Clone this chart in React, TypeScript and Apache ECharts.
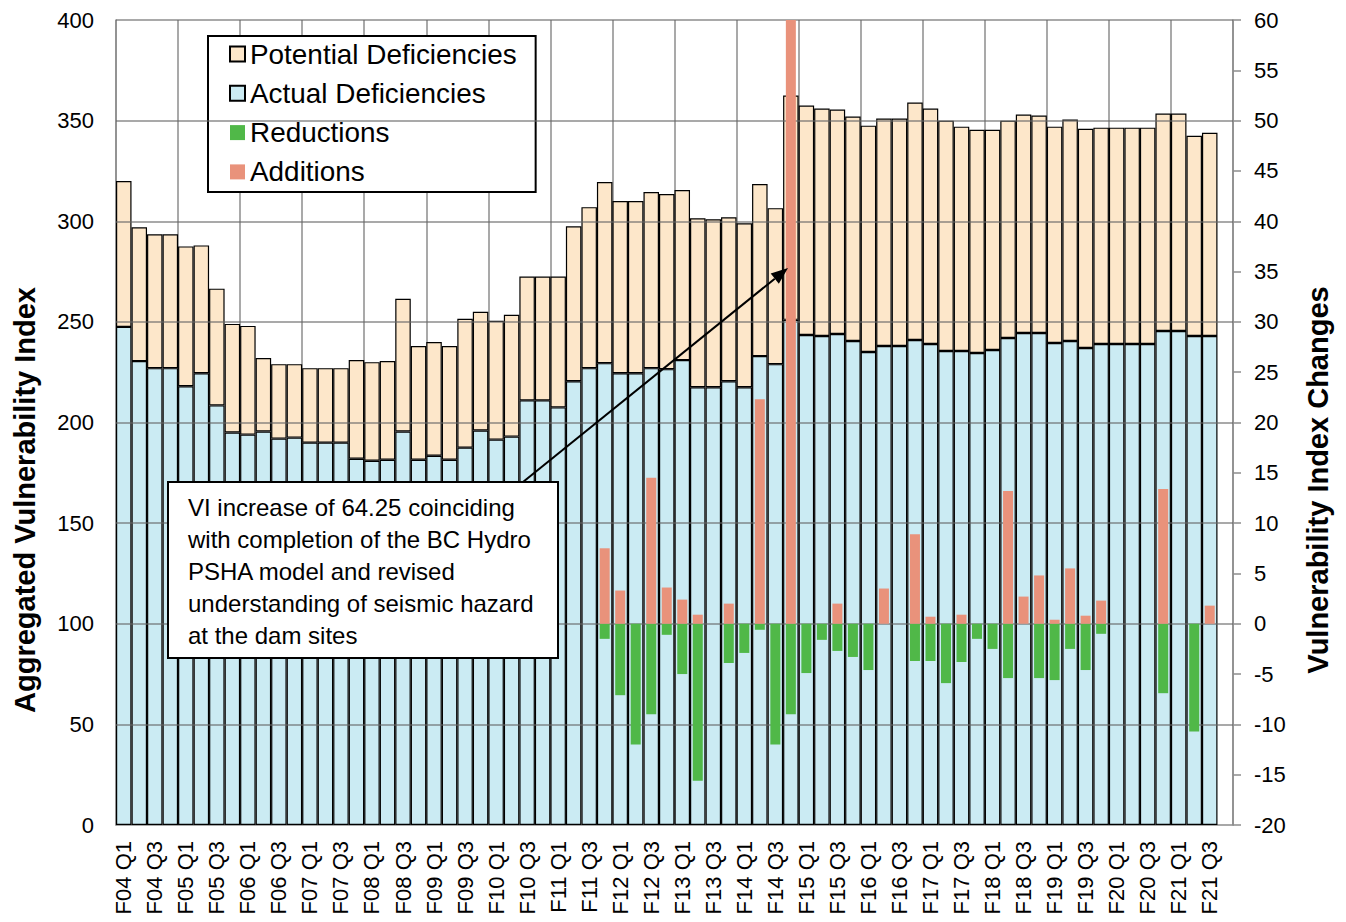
import React, { useEffect, useRef } from "react";
import * as echarts from "echarts";

const N = null;
const fiscalYears = ["F04","F05","F06","F07","F08","F09","F10","F11","F12","F13","F14","F15","F16","F17","F18","F19","F20","F21"];
const quarters = ["Q1", "Q2", "Q3", "Q4"];
const categories: string[] = [];
fiscalYears.forEach((y) => quarters.forEach((q) => categories.push(y + " " + q)));

const actualDeficiencies = [
  247.5,230.5,227,227,218,224.5,208.5,195,194,195.5,
  192,192.5,190,190,190,182,181,181.5,195.5,181.5,
  183.5,181.5,187.5,196,191.5,193,211,211,207.5,220.5,
  227,229.5,224.5,224.5,227,226.5,231,217.5,217.5,220.5,
  217.5,233,229,251,243.5,243,244,240.5,235,238,
  238,241,239,235.5,235.5,234.5,236,242,244.5,244.5,
  239.5,240.5,237,239,239,239,239,245.5,245.5,243,
  243,N,
];
const potentialDeficiencies = [
  72.5,66.5,66.5,66.5,69.5,63.5,58,54,54,36.5,
  37,36.5,37,37,37,49,49,49,66,56.5,
  56.5,56.5,64,59,59,60.5,61.5,61.5,65,77,
  80,90,85.5,85.5,87.5,87,84.5,84,83.5,81.5,
  81.5,85.5,77.5,111.5,114,113,111.5,111.5,112.5,113,
  113,118,117,114.5,111.5,111,109.5,108,108.5,108,
  107.5,110,109,107.5,107.5,107.5,107.5,108,108,99.5,
  101,N,
];
const additions = [
  N,N,N,N,N,N,N,N,N,N,
  N,N,N,N,N,N,N,N,N,N,
  N,N,N,N,N,N,N,N,N,N,
  N,7.5,3.3,N,14.5,3.6,2.4,0.9,N,2.0,
  N,22.3,N,64.25,N,N,2.0,N,N,3.5,
  N,8.9,0.7,N,0.9,N,N,13.2,2.7,4.8,
  0.4,5.5,0.8,2.3,N,N,N,13.4,N,N,
  1.8,N,
];
const reductions = [
  N,N,N,N,N,N,N,N,N,N,
  N,N,N,N,N,N,N,N,N,N,
  N,N,N,N,N,N,N,N,N,N,
  N,-1.5,-7.1,-12,-9,-1.1,-5,-15.6,N,-3.9,
  -2.9,-0.6,-12,-9,-4.9,-1.6,-2.7,-3.3,-4.6,N,
  N,-3.7,-3.7,-5.9,-3.8,-1.5,-2.5,-5.4,N,-5.4,
  -5.6,-2.5,-4.6,-1,N,N,N,-6.9,N,-10.7,
  N,N,
];
const leftGridValues = [50, 100, 150, 200, 250, 300, 350, 400];
const annotationText = [
  "VI increase of 64.25 coinciding",
  "with completion of the BC Hydro",
  "PSHA model and revised",
  "understanding of seismic hazard",
  "at the dam sites",
];

const FONT = '"Liberation Sans", Arial, sans-serif';
const GRID_GRAY = "#8c8c8c";

export default function App() {
  const ref = useRef<HTMLDivElement>(null);
  useEffect(() => {
    if (!ref.current) return;
    const chart = echarts.init(ref.current, undefined, { renderer: "svg" });
    const sx = 523, sy = 482, tx = 788, ty = 268;
    const dx = tx - sx, dy = ty - sy;
    const len = Math.sqrt(dx * dx + dy * dy);
    const ux = dx / len, uy = dy / len;
    const hl = 17, hw = 6.5;
    const bx = tx - ux * hl, by = ty - uy * hl;
    const px = -uy, py = ux;

    const option: any = {
      animation: false,
      backgroundColor: "#fff",
      textStyle: { fontFamily: FONT },
      grid: { left: 116, right: 113, top: 20, bottom: 97, containLabel: false },
      legend: {
        orient: "vertical",
        left: 208,
        top: 36,
        padding: [4, 19, 6, 21],
        itemGap: 11.3,
        itemWidth: 15,
        itemHeight: 15,
        icon: "rect",
        backgroundColor: "#fff",
        borderColor: "#000",
        borderWidth: 2,
        borderRadius: 0,
        selectedMode: false,
        data: ["Potential Deficiencies", "Actual Deficiencies", "Reductions", "Additions"],
        textStyle: { fontSize: 27.9, color: "#000", fontFamily: FONT },
      },
      xAxis: [
        {
          type: "category",
          data: categories,
          boundaryGap: true,
          axisLine: { show: true, lineStyle: { color: GRID_GRAY, width: 1.5 } },
          axisTick: { show: false },
          axisLabel: {
            interval: 1,
            rotate: 90,
            fontSize: 22,
            color: "#000",
            margin: 16,
            fontFamily: FONT,
          },
          splitLine: { show: true, interval: 3, lineStyle: { color: GRID_GRAY, width: 1.5 } },
        },
        {
          type: "category",
          data: categories,
          show: false,
          gridIndex: 0,
        },
      ],
      yAxis: [
        {
          type: "value",
          min: 0,
          max: 400,
          interval: 50,
          axisLine: { show: true, lineStyle: { color: GRID_GRAY, width: 1.5 } },
          axisTick: { show: false },
          axisLabel: { fontSize: 22, color: "#000", margin: 22, fontFamily: FONT },
          splitLine: { show: false },
        },
        {
          type: "value",
          min: -20,
          max: 60,
          interval: 5,
          position: "right",
          axisLine: { show: true, lineStyle: { color: GRID_GRAY, width: 1.5 } },
          axisTick: { show: true, inside: false, length: 8, lineStyle: { color: GRID_GRAY, width: 1.5 } },
          axisLabel: { fontSize: 22, color: "#000", margin: 21, fontFamily: FONT },
          splitLine: { show: false },
        },
      ],
      series: [
        {
          name: "Actual Deficiencies",
          type: "bar",
          stack: "vi",
          xAxisIndex: 0,
          yAxisIndex: 0,
          barWidth: "100%",
          data: actualDeficiencies,
          itemStyle: { color: "#cbebf3", borderColor: "#000", borderWidth: 1.2 },
          emphasis: { disabled: true },
          markLine: {
            silent: true,
            symbol: "none",
            z: 5,
            label: { show: false },
            emphasis: { disabled: true },
            lineStyle: { color: "#666", opacity: 0.75, width: 1.5, type: "solid" },
            data: leftGridValues.map((v) => ({ yAxis: v })),
          },
        },
        {
          name: "Potential Deficiencies",
          type: "bar",
          stack: "vi",
          xAxisIndex: 0,
          yAxisIndex: 0,
          barWidth: "100%",
          data: potentialDeficiencies,
          itemStyle: { color: "#fde7ca", borderColor: "#000", borderWidth: 1.2 },
          emphasis: { disabled: true },
        },
        {
          name: "Reductions",
          type: "bar",
          stack: "chg",
          xAxisIndex: 1,
          yAxisIndex: 1,
          barWidth: 10,
          z: 6,
          data: reductions,
          itemStyle: { color: "#50b848" },
          emphasis: { disabled: true },
        },
        {
          name: "Additions",
          type: "bar",
          stack: "chg",
          xAxisIndex: 1,
          yAxisIndex: 1,
          barWidth: 10,
          z: 6,
          clip: true,
          data: additions,
          itemStyle: { color: "#e9927b" },
          emphasis: { disabled: true },
        },
      ],
      graphic: [
        {
          type: "text",
          x: 25,
          y: 500,
          rotation: Math.PI / 2,
          z: 100,
          style: {
            text: "Aggregated Vulnerability Index",
            font: `bold 29px ${FONT}`,
            fill: "#000",
            align: "center",
            verticalAlign: "middle",
            textAlign: "center",
            textVerticalAlign: "middle",
          },
        },
        {
          type: "text",
          x: 1318,
          y: 480,
          rotation: Math.PI / 2,
          z: 100,
          style: {
            text: "Vulnerability Index Changes",
            font: `bold 29px ${FONT}`,
            fill: "#000",
            align: "center",
            verticalAlign: "middle",
            textAlign: "center",
            textVerticalAlign: "middle",
          },
        },
        {
          type: "line",
          z: 100,
          shape: { x1: sx, y1: sy, x2: bx, y2: by },
          style: { stroke: "#000", lineWidth: 2 },
        },
        {
          type: "polygon",
          z: 100,
          shape: {
            points: [
              [tx, ty],
              [bx + px * hw, by + py * hw],
              [bx - px * hw, by - py * hw],
            ],
          },
          style: { fill: "#000" },
        },
        {
          type: "rect",
          z: 100,
          shape: { x: 168, y: 482, width: 390, height: 176 },
          style: { fill: "#fff", stroke: "#000", lineWidth: 2 },
        },
        {
          type: "text",
          z: 101,
          x: 188,
          y: 491,
          style: {
            text: annotationText.join("\n"),
            font: `24px ${FONT}`,
            lineHeight: 32,
            fill: "#000",
            align: "left",
            verticalAlign: "top",
            textAlign: "left",
            textVerticalAlign: "top",
          },
        },
      ],
    };
    chart.setOption(option);
    return () => chart.dispose();
  }, []);
  return (
    <div
      ref={ref}
      style={{ position: "fixed", left: 0, top: 0, width: 1346, height: 922, background: "#fff" }}
    />
  );
}
